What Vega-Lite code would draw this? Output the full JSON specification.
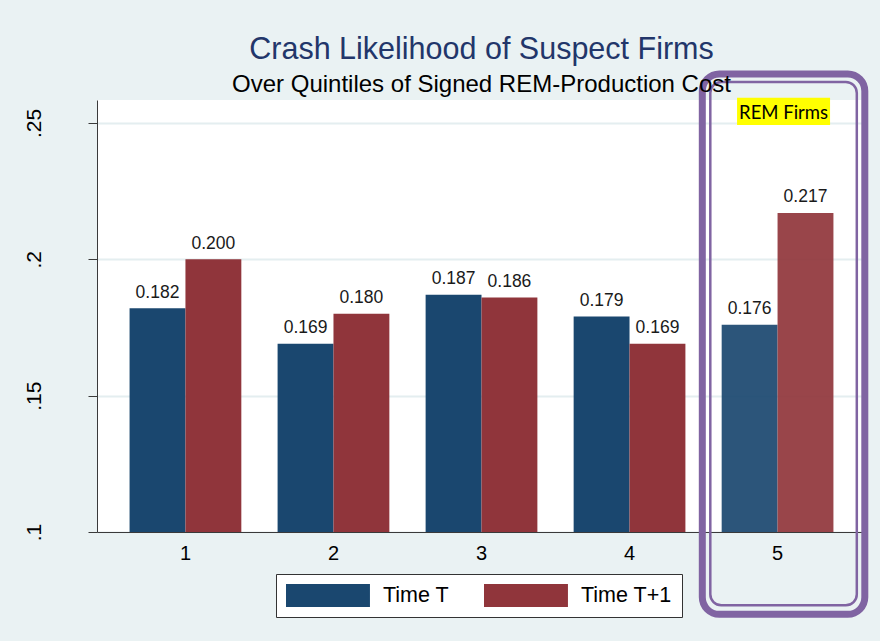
{
  "$schema": "https://vega.github.io/schema/vega-lite/v6.json",
  "autosize": {"type": "none"},
  "width": 769,
  "height": 432,
  "padding": {"left": 97, "top": 100, "right": 14, "bottom": 109},
  "background": "#eaf2f3",
  "config": {
    "view": {"stroke": null, "fill": "white"},
    "font": "Liberation Sans"
  },
  "title": {
    "text": "Crash Likelihood of Suspect Firms",
    "subtitle": "Over Quintiles of Signed REM-Production Cost",
    "anchor": "middle",
    "font": "Liberation Sans",
    "fontSize": 30.5,
    "fontWeight": "normal",
    "color": "#22366a",
    "subtitleFont": "Liberation Sans",
    "subtitleFontSize": 24,
    "subtitleColor": "black",
    "subtitlePadding": 7,
    "offset": -26
  },
  "datasets": {
    "bars": [
      {"q": "1", "t": "Time T", "v": 0.182},
      {"q": "1", "t": "Time T+1", "v": 0.200},
      {"q": "2", "t": "Time T", "v": 0.169},
      {"q": "2", "t": "Time T+1", "v": 0.180},
      {"q": "3", "t": "Time T", "v": 0.187},
      {"q": "3", "t": "Time T+1", "v": 0.186},
      {"q": "4", "t": "Time T", "v": 0.179},
      {"q": "4", "t": "Time T+1", "v": 0.169},
      {"q": "5", "t": "Time T", "v": 0.176},
      {"q": "5", "t": "Time T+1", "v": 0.217}
    ],
    "note": [{"q": "5", "label": "REM Firms"}]
  },
  "layer": [
    {
      "data": {"name": "bars"},
      "mark": {"type": "bar", "clip": true},
      "encoding": {
        "x": {
          "field": "q", "type": "nominal",
          "scale": {"paddingInner": 0.245, "paddingOuter": 0.22},
          "axis": {
            "title": null, "labelAngle": 0, "ticks": false, "tickSize": 0,
            "labelFontSize": 20, "labelColor": "black", "labelPadding": 11,
            "domainColor": "#3a3a3a", "domainWidth": 1, "grid": false
          }
        },
        "xOffset": {"field": "t", "type": "nominal", "scale": {"paddingInner": 0, "paddingOuter": 0}},
        "y": {
          "field": "v", "type": "quantitative",
          "scale": {"domain": [0.1, 0.2584], "nice": false, "zero": false},
          "axis": {
            "title": null,
            "values": [0.1, 0.15, 0.2, 0.25],
            "labelExpr": "replace(format(datum.value, '.2~f'), '0.', '.')",
            "labelAngle": 270, "labelAlign": "center", "labelBaseline": "bottom",
            "labelFontSize": 21, "labelColor": "black", "labelPadding": 44,
            "tickSize": 9, "tickColor": "#3a3a3a", "tickWidth": 1,
            "domainColor": "#3a3a3a", "domainWidth": 1,
            "grid": true, "gridColor": "#e4eef0", "gridWidth": 2
          }
        },
        "color": {
          "field": "t", "type": "nominal",
          "scale": {"domain": ["Time T", "Time T+1"], "range": ["#1a476f", "#90353b"]},
          "legend": {
            "title": null, "orient": "none", "legendX": 179, "legendY": 474,
            "direction": "horizontal",
            "fillColor": "white", "strokeColor": "#333333", "padding": 10,
            "symbolType": "M-1,-1H6.3V1H-1Z", "symbolSize": 529,
            "symbolStrokeWidth": 0, "symbolOpacity": 1,
            "labelFontSize": 21.5, "labelColor": "black", "labelFont": "Liberation Sans",
            "labelOffset": 74, "columnPadding": 34
          }
        },
        "opacity": {"condition": {"test": "datum.q == '5'", "value": 0.92}, "value": 1}
      }
    },
    {
      "data": {"name": "bars"},
      "mark": {"type": "text", "baseline": "alphabetic", "dy": -10.5, "fontSize": 17.5, "color": "#1a1a1a", "font": "Liberation Sans"},
      "encoding": {
        "x": {"field": "q", "type": "nominal"},
        "xOffset": {"field": "t", "type": "nominal"},
        "y": {"field": "v", "type": "quantitative"},
        "text": {"field": "v", "type": "quantitative", "format": ".3f"}
      }
    },
    {
      "data": {"name": "note"},
      "mark": {"type": "bar", "width": 162.5, "xOffset": 6, "filled": false, "stroke": "#8064a2", "strokeWidth": 7, "cornerRadius": 17, "clip": false},
      "encoding": {
        "x": {"field": "q", "type": "nominal"},
        "y": {"datum": 0.2679},
        "y2": {"datum": 0.0698}
      }
    },
    {
      "data": {"name": "note"},
      "mark": {"type": "bar", "width": 146.5, "xOffset": 6, "filled": false, "stroke": "#8064a2", "strokeWidth": 2.5, "cornerRadius": 11, "clip": false},
      "encoding": {
        "x": {"field": "q", "type": "nominal"},
        "y": {"datum": 0.2650},
        "y2": {"datum": 0.0731}
      }
    },
    {
      "data": {"name": "note"},
      "mark": {"type": "bar", "width": 93, "xOffset": 6, "color": "#ffff00", "clip": false},
      "encoding": {
        "x": {"field": "q", "type": "nominal"},
        "y": {"datum": 0.2592},
        "y2": {"datum": 0.2492}
      }
    },
    {
      "data": {"name": "note"},
      "mark": {"type": "text", "font": "Lato", "fontSize": 18.5, "color": "black", "baseline": "alphabetic", "xOffset": 6},
      "encoding": {
        "x": {"field": "q", "type": "nominal"},
        "y": {"datum": 0.2513},
        "text": {"field": "label"}
      }
    }
  ]
}
